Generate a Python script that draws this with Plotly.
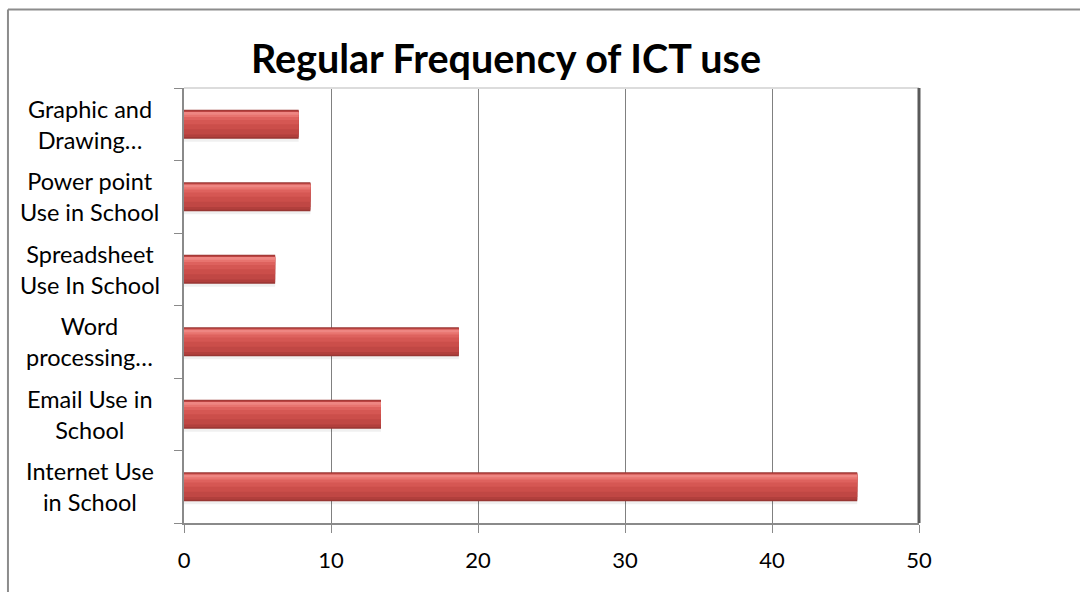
import plotly.graph_objects as go

# Category order runs bottom -> top on the value axis
categories = [
    "Internet Use<br>in School",
    "Email Use in<br>School",
    "Word<br>processing…",
    "Spreadsheet<br>Use In School",
    "Power point<br>Use in School",
    "Graphic and<br>Drawing…",
]
values = [45.8, 13.4, 18.7, 6.2, 8.6, 7.8]
x_ticks = [0, 10, 20, 30, 40, 50]

FONT = "Lato"
positions = list(range(len(categories)))

fig = go.Figure()

# Layered bars give the cylinder-like shading: dark rim, red body, light top stripe
layers = [
    (-0.24, 0.06, "rgba(0,0,0,0.06)"),    # soft shadow under the bar
    (-0.20, 0.40, "#983633"),
    (-0.18, 0.37, "#B13F3C"),
    (-0.14, 0.32, "#C04744"),
    (-0.07, 0.24, "#CB4E4A"),
    (0.00, 0.16, "#D55753"),
    (0.06, 0.10, "#DE625E"),
    (0.10, 0.06, "#E8746F"),
    (0.13, 0.04, "#EE8682"),
]
for offset, width, color in layers:
    fig.add_trace(go.Bar(
        x=values, y=positions, orientation="h",
        offset=offset, width=width,
        marker=dict(color=color, line=dict(width=0)),
        hoverinfo="skip", showlegend=False,
    ))

# Category labels, each block centred
for pos, label in zip(positions, categories):
    fig.add_annotation(
        x=-0.128, xref="paper", y=pos, yref="y",
        text=label, showarrow=False, xanchor="center", yanchor="middle",
        align="center", font=dict(family=FONT, size=23.5, color="#000000"),
    )

fig.update_layout(
    width=1080, height=592,
    margin=dict(l=184, r=161, t=88, b=69),
    paper_bgcolor="white", plot_bgcolor="white",
    barmode="overlay",
    title=dict(
        text="<b>Regular Frequency of ICT use</b>",
        x=0.4685, xref="container", xanchor="center",
        y=0.9, yref="container", yanchor="middle",
        font=dict(family=FONT, size=39.5, color="#000000"),
    ),
    xaxis=dict(
        range=[0, 50], tickvals=x_ticks, ticktext=[str(v) for v in x_ticks],
        showgrid=True, gridcolor="#808080", gridwidth=1.2,
        showline=True, linecolor="#8a8a8a", linewidth=1.5,
        ticks="outside", ticklen=8, tickcolor="#8a8a8a",
        ticklabelstandoff=9,
        tickfont=dict(family=FONT, size=22, color="#000000"),
        zeroline=False, fixedrange=True,
    ),
    yaxis=dict(
        range=[-0.5, len(categories) - 0.5],
        tickvals=[p - 0.5 for p in positions] + [len(categories) - 0.5],
        showticklabels=False, showgrid=False,
        showline=True, linecolor="#8a8a8a", linewidth=1.5,
        ticks="outside", ticklen=8, tickcolor="#8a8a8a",
        zeroline=False, fixedrange=True,
    ),
    shapes=[
        # back wall top edge
        dict(type="line", xref="paper", yref="paper", x0=0, x1=1, y0=1, y1=1,
             line=dict(color="#dcdcdc", width=2)),
        # right wall edge
        dict(type="line", xref="paper", yref="paper", x0=1, x1=1, y0=0, y1=1,
             line=dict(color="#5a5a5a", width=3)),
        # chart frame
        dict(type="line", xref="paper", yref="paper", x0=-0.2395, x1=-0.2395,
             y0=-0.2, y1=1.1805, line=dict(color="#8c8c8c", width=2)),
        dict(type="line", xref="paper", yref="paper", x0=-0.2395, x1=1.3,
             y0=1.1805, y1=1.1805, line=dict(color="#8c8c8c", width=2)),
    ],
)

fig.write_html("out.html")
